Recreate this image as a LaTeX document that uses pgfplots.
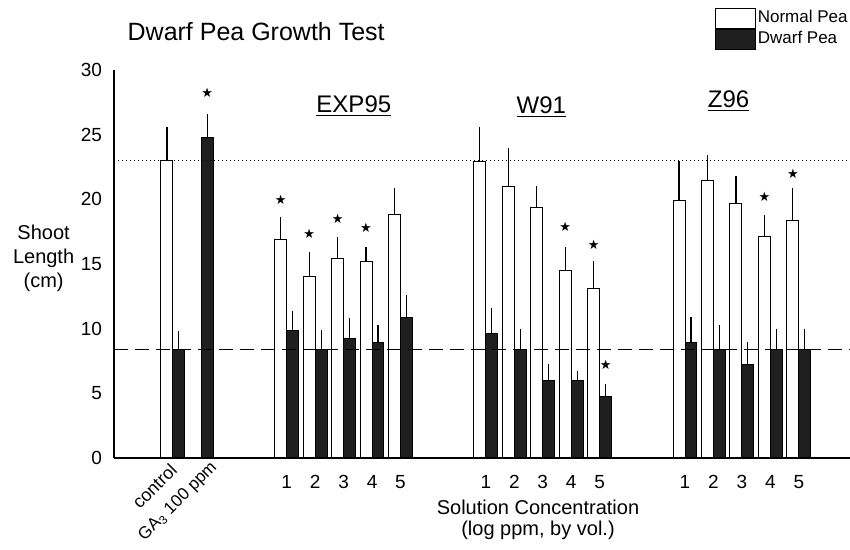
\documentclass[border=0pt]{standalone}
\usepackage{fontspec}
\setmainfont{Liberation Sans}
\newfontfamily\symfont{DejaVu Sans}
\usepackage{pgfplots}
\pgfplotsset{compat=1.18}
\usetikzlibrary{plotmarks}

\definecolor{dwarf}{gray}{0.12}

\begin{document}
\begin{tikzpicture}[x=1pt,y=1pt]
\useasboundingbox (0,0) rectangle (425,275);

\begin{axis}[
  at={(57pt,46pt)}, anchor=south west,
  scale only axis, width=368pt, height=194pt,
  xmin=-2.07, xmax=23.8, ymin=0, ymax=30,
  axis x line=bottom, axis y line=left,
  axis line style={-, line width=0.7pt},
  ytick={0,5,...,30}, major tick length=0pt,
  xtick={4,5,6,7,8,11,12,13,14,15,18,19,20,21,22},
  xticklabels={1,2,3,4,5,1,2,3,4,5,1,2,3,4,5},
  tick label style={font=\fontsize{9.5}{10}\selectfont},
  x tick label style={yshift=-5pt},
  y tick label style={xshift=-2.5pt},
  /pgf/number format/assume math mode=true,
  clip=false,
  legend style={at={(1,1)}, anchor=south east, yshift=10pt,
    draw=none, fill=none, inner sep=0pt, row sep=0pt,
    nodes={inner sep=1pt},
    font=\fontsize{8.5}{9}\selectfont,
    /tikz/every even column/.append style={column sep=4pt}},
  legend cell align=left,
]

% normal pea
\addplot[ybar, bar width=0.42, bar shift=0pt, draw=black, fill=white, line width=0.5pt,
  legend image code/.code={\draw[black, fill=white, line width=0.5pt] (0pt,-5pt) rectangle (20pt,5pt);},
  error bars/.cd, y dir=plus, y explicit, error mark=none,
  error bar style={line width=0.6pt}]
  table[x=x, y=y, y error=e] {
x y e
-0.21 23.0 2.6
3.79 16.9 1.7
4.79 14.0 1.9
5.79 15.4 1.7
6.79 15.2 1.1
7.79 18.8 2.1
10.79 22.9 2.7
11.79 21.0 2.95
12.79 19.4 1.6
13.79 14.5 1.8
14.79 13.1 2.1
17.79 19.9 3.1
18.79 21.45 1.95
19.79 19.7 2.1
20.79 17.1 1.7
21.79 18.4 2.45
};
\addlegendentry{Normal Pea}

% dwarf pea
\addplot[ybar, bar width=0.42, bar shift=0pt, draw=black, fill=dwarf, line width=0.5pt,
  legend image code/.code={\draw[black, fill=dwarf, line width=0.5pt] (0pt,-5pt) rectangle (20pt,5pt);},
  error bars/.cd, y dir=plus, y explicit, error mark=none,
  error bar style={line width=0.6pt, black}]
  table[x=x, y=y, y error=e] {
x y e
0.21 8.4 1.4
1.21 24.8 1.8
4.21 9.85 1.55
5.21 8.4 1.5
6.21 9.25 1.55
7.21 8.9 1.4
8.21 10.9 1.7
11.21 9.6 2.0
12.21 8.4 1.6
13.21 6.0 1.3
14.21 6.0 0.75
15.21 4.75 0.95
18.21 8.9 2.0
19.21 8.4 1.9
20.21 7.2 1.8
21.21 8.4 1.6
22.21 8.4 1.6
};
\addlegendentry{Dwarf Pea}

% reference lines
\addplot[forget plot, black, line width=0.7pt, dash pattern=on 0.7pt off 1.3pt]
  coordinates {(-2.07,23.0) (23.8,23.0)};
\addplot[forget plot, black, line width=0.6pt, dash pattern=on 7pt off 3.5pt]
  coordinates {(-2.07,8.4) (23.8,8.4)};

% significance stars
\addplot[forget plot, only marks, mark=text,
  text mark={\symfont\fontsize{6.5}{7}\selectfont ★}]
  coordinates {
    (1.21,28.2)
    (3.79,20.0) (4.79,17.3) (5.79,18.5) (6.79,17.8)
    (13.79,17.9) (14.79,16.5) (15.21,7.2)
    (20.79,20.2) (21.79,22.0)
  };

% group labels
\node[anchor=base, font=\fontsize{12}{14}\selectfont] at (axis cs:6.36,26.7) {\underline{EXP95}};
\node[anchor=base, font=\fontsize{12}{14}\selectfont] at (axis cs:12.95,26.65) {\underline{W91}};
\node[anchor=base, font=\fontsize{12}{14}\selectfont] at (axis cs:19.53,27.1) {\underline{Z96}};

% rotated category labels
\node[rotate=45, anchor=north east, inner sep=0pt, font=\fontsize{9}{10}\selectfont]
  at (axis cs:-0.14,-0.3) {control};
\node[rotate=45, anchor=north east, inner sep=0pt, font=\fontsize{8.5}{10}\selectfont]
  at (axis cs:1.27,-0.1) {GA\textsubscript{3} 100 ppm};
\end{axis}

% title and axis texts
\node[anchor=base west, font=\fontsize{12.5}{14}\selectfont] at (60.3,254.5) {Dwarf Pea Growth Test};
\node[align=center, font=\fontsize{10}{12}\selectfont] at (21.8,146) {Shoot\\Length\\(cm)};
\node[anchor=base, font=\fontsize{10}{12}\selectfont] at (269,17.5) {Solution Concentration};
\node[anchor=base, font=\fontsize{10}{12}\selectfont] at (269,7) {(log ppm, by vol.)};
\end{tikzpicture}
\end{document}
